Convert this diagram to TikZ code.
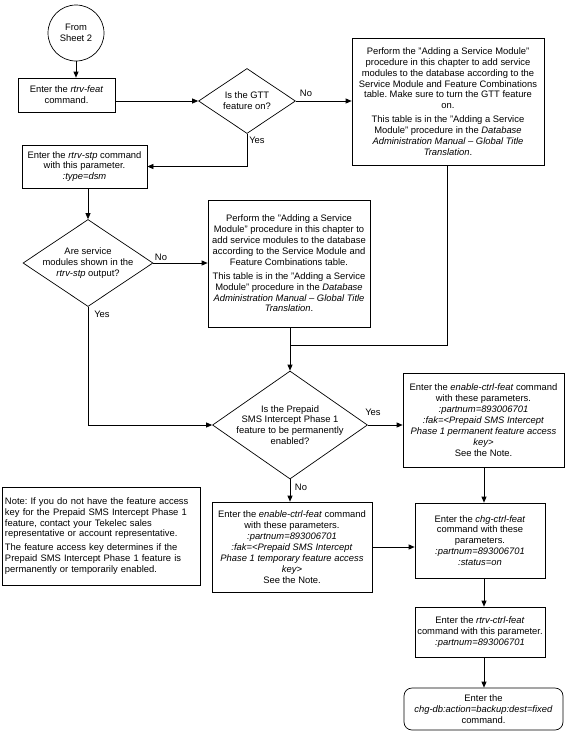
\documentclass[tikz,border=0pt]{standalone}
\usepackage{fontspec}
\setmainfont{Liberation Sans}
\frenchspacing
\usetikzlibrary{arrows.meta,shapes.geometric}
\tikzset{
  base/.style={draw, line width=0.7pt, inner sep=0pt, align=center, font=\fontsize{9.4}{10.9}\selectfont},
  box/.style={base, rectangle},
  dia/.style={draw, line width=0.7pt, diamond, inner sep=0pt},
  txt/.style={inner sep=0pt, align=center, font=\fontsize{9.4}{10.9}\selectfont},
  lbl/.style={inner sep=0pt, font=\fontsize{9.4}{10.9}\selectfont},
  conn/.style={line width=0.7pt},
  arr/.style={conn, -{Triangle[length=6pt,width=5pt]}}
}
\begin{document}
\begin{tikzpicture}[x=1pt,y=-1pt]
\useasboundingbox (0,0) rectangle (565,732);
\fill[white] (0,0) rectangle (565,732);

\node[base, circle, minimum size=56pt] (start) at (76,33) {From\\Sheet 2};
\node[box, minimum width=97pt, minimum height=34pt] (feat) at (66.5,95) {Enter the \textit{rtrv-feat}\\command.};
\node[dia, minimum width=97pt, minimum height=65pt] (gtt) at (247,101) {};
\node[txt] (gttt) at (247,101) {Is the GTT\\feature on?};
\node[box, minimum width=192pt, minimum height=127pt] (gttno) at (448,101.5) {Perform the "Adding a Service Module"\\procedure in this chapter to add service\\modules to the database according to the\\Service Module and Feature Combinations\\table. Make sure to turn the GTT feature\\on.\\[3pt]This table is in the "Adding a Service\\Module" procedure in the \textit{Database}\\\textit{Administration Manual – Global Title}\\\textit{Translation}.};
\node[box, minimum width=125pt, minimum height=43pt] (stp) at (84.5,166.5) {Enter the \textit{rtrv-stp} command\\with this parameter.\\\textit{:type=dsm}};
\node[dia, minimum width=130pt, minimum height=87pt] (sm) at (88,263) {};
\node[txt] (smt) at (88,263) {Are service\\modules shown in the\\\textit{rtrv-stp} output?};
\node[box, minimum width=162pt, minimum height=127pt] (smno) at (289,263.5) {Perform the "Adding a Service\\Module" procedure in this chapter to\\add service modules to the database\\according to the Service Module and\\Feature Combinations table.\\[3pt]This table is in the "Adding a Service\\Module" procedure in the \textit{Database}\\\textit{Administration Manual – Global Title}\\\textit{Translation}.};
\node[dia, minimum width=155pt, minimum height=108pt] (pp) at (290,425) {};
\node[txt] (ppt) at (290,425) {Is the Prepaid\\SMS Intercept Phase 1\\feature to be permanently\\enabled?};
\node[box, minimum width=161pt, minimum height=94pt] (perm) at (483.5,420) {Enter the \textit{enable-ctrl-feat} command\\with these parameters.\\\textit{:partnum=893006701}\\\textit{:fak=<Prepaid SMS Intercept}\\\textit{Phase 1 permanent feature access}\\\textit{key>}\\See the Note.};
\node[box, minimum width=160pt, minimum height=90pt] (temp) at (292,547) {Enter the \textit{enable-ctrl-feat} command\\with these parameters.\\\textit{:partnum=893006701}\\\textit{:fak=<Prepaid SMS Intercept}\\\textit{Phase 1 temporary feature access}\\\textit{key>}\\See the Note.};
\node[box, align=left, minimum width=198pt, minimum height=98pt, text width=192pt] (note) at (101,536) {Note: If you do not have the feature access\\key for the Prepaid SMS Intercept Phase 1\\feature, contact your Tekelec sales\\representative or account representative.\\[3pt]The feature access key determines if the\\Prepaid SMS Intercept Phase 1 feature is\\permanently or temporarily enabled.};
\node[box, minimum width=130pt, minimum height=75pt] (chg) at (480,540.5) {Enter the \textit{chg-ctrl-feat}\\command with these\\parameters.\\\textit{:partnum=893006701}\\\textit{:status=on}};
\node[box, minimum width=130pt, minimum height=50pt] (rtrv) at (480,632) {Enter the \textit{rtrv-ctrl-feat}\\command with this parameter.\\\textit{:partnum=893006701}};
\node[box, rounded corners=8pt, minimum width=159pt, minimum height=42pt] (db) at (483.5,709) {Enter the\\\textit{chg-db:action=backup:dest=fixed}\\command.};

\coordinate (j) at (290,345);

\draw[arr] (start.south) -- (start.south |- feat.north);
\draw[arr] (feat.east |- gtt.west) -- (gtt.west);
\draw[arr] (gtt.east) -- (gtt.east -| gttno.west);
\node[lbl] (gttnol) at (306,93) {No};
\draw[arr] (gtt.south) |- (stp.east);
\node[lbl] (gttyl) at (257,140) {Yes};
\draw[arr] (sm.north |- stp.south) -- (sm.north);
\draw[arr] (sm.east) -- (sm.east -| smno.west);
\node[lbl] (smnol) at (161,257) {No};
\draw[arr] (sm.south) |- (pp.west);
\node[lbl] (smyl) at (102,314) {Yes};
\draw[arr] (pp.north |- smno.south) -- (pp.north);
\draw[conn] (gttno.south -| 447,0) |- (j);
\draw[arr] (pp.east) -- (pp.east -| perm.west);
\node[lbl] (ppyl) at (373,412) {Yes};
\draw[arr] (pp.south) -- (pp.south |- temp.north);
\node[lbl] (ppnl) at (301,487) {No};
\draw[arr] (484,467) coordinate (pb) -- (pb |- chg.north);
\draw[arr] (temp.east) -- (temp.east -| chg.west);
\draw[arr] (chg.south -| 484,0) -- (rtrv.north -| 484,0);
\draw[arr] (rtrv.south -| 484,0) -- (db.north -| 484,0);
\end{tikzpicture}
\end{document}
